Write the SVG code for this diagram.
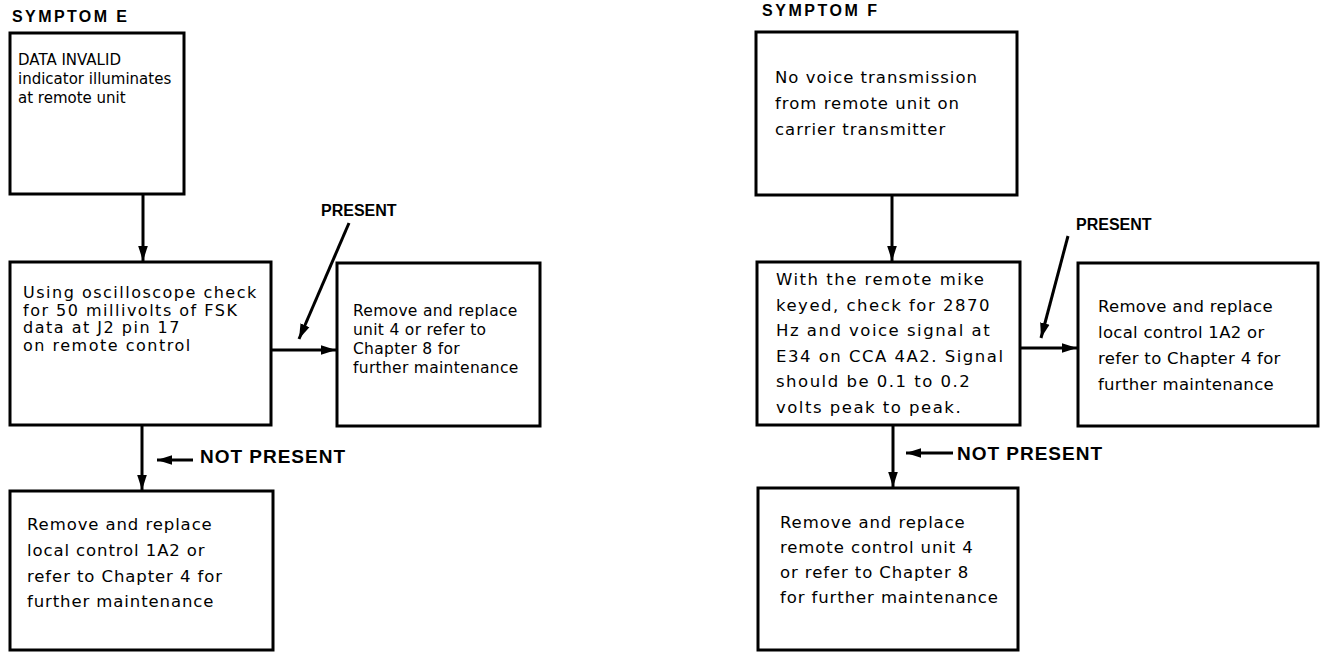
<svg xmlns="http://www.w3.org/2000/svg" width="1325" height="653" viewBox="0 0 1325 653">
<defs>
<style>
.box{fill:#fff;stroke:#000;stroke-width:3}
.t{font-family:"DejaVu Sans","Liberation Sans",sans-serif;font-size:16.5px;fill:#000;letter-spacing:0.9px}
.h{font-family:"Liberation Sans",Arial,sans-serif;font-weight:bold;font-size:16px;fill:#000}
.np{font-family:"Liberation Sans",Arial,sans-serif;font-weight:bold;font-size:19px;fill:#000}
.ln{stroke:#000;stroke-width:3;fill:none}
</style>
<marker id="ah" viewBox="0 0 10 10" refX="10" refY="5" markerWidth="5" markerHeight="5" markerUnits="strokeWidth" orient="auto">
<path d="M0,1.8 L10,5 L0,8.2 Z" fill="#000"/>
</marker>
</defs>
<rect width="1325" height="653" fill="#fff"/>

<text class="h" x="12" y="22" textLength="115" lengthAdjust="spacing">SYMPTOM E</text>
<text class="h" x="762" y="16" textLength="115" lengthAdjust="spacing">SYMPTOM F</text>

<g id="connectors">
<line class="ln" x1="143" y1="194" x2="143" y2="261" marker-end="url(#ah)"/>
<line class="ln" x1="271" y1="350" x2="336" y2="350" marker-end="url(#ah)"/>
<line class="ln" x1="349" y1="223" x2="299" y2="339" marker-end="url(#ah)"/>
<line class="ln" x1="142" y1="425" x2="142" y2="490" marker-end="url(#ah)"/>
<line class="ln" x1="193" y1="460" x2="157" y2="460" marker-end="url(#ah)"/>
<line class="ln" x1="892" y1="195" x2="892" y2="261" marker-end="url(#ah)"/>
<line class="ln" x1="1020" y1="348" x2="1077" y2="348" marker-end="url(#ah)"/>
<line class="ln" x1="1068" y1="236" x2="1041" y2="338" marker-end="url(#ah)"/>
<line class="ln" x1="893" y1="425" x2="893" y2="487" marker-end="url(#ah)"/>
<line class="ln" x1="953" y1="453" x2="906" y2="453" marker-end="url(#ah)"/>
</g>

<text class="h" x="321" y="216" font-size="16.5">PRESENT</text>
<text class="np" x="200" y="463" textLength="145" lengthAdjust="spacing">NOT PRESENT</text>
<text class="h" x="1076" y="230" font-size="16.5">PRESENT</text>
<text class="np" x="957" y="460" textLength="145" lengthAdjust="spacing">NOT PRESENT</text>

<g id="e1">
<rect class="box" x="10" y="33" width="174" height="161"/>
<text class="t" x="18" y="65" style="font-size:15px;letter-spacing:0px">DATA INVALID</text>
<text class="t" x="18" y="84" style="font-size:15px;letter-spacing:0px">indicator illuminates</text>
<text class="t" x="18" y="103" style="font-size:15px;letter-spacing:0px">at remote unit</text>
</g>
<g id="e2">
<rect class="box" x="10" y="262" width="261" height="163"/>
<text class="t" x="23" y="298" style="font-size:16px;letter-spacing:1.5px">Using oscilloscope check</text>
<text class="t" x="23" y="315.5" style="font-size:16px;letter-spacing:1.5px">for 50 millivolts of FSK</text>
<text class="t" x="23" y="333" style="font-size:16px;letter-spacing:1.5px">data at J2 pin 17</text>
<text class="t" x="23" y="350.5" style="font-size:16px;letter-spacing:1.5px">on remote control</text>
</g>
<g id="e3">
<rect class="box" x="337" y="263" width="203" height="163"/>
<text class="t" x="353" y="316" style="font-size:15.5px;letter-spacing:0.3px">Remove and replace</text>
<text class="t" x="353" y="335" style="font-size:15.5px;letter-spacing:0.3px">unit 4 or refer to</text>
<text class="t" x="353" y="354" style="font-size:15.5px;letter-spacing:0.3px">Chapter 8 for</text>
<text class="t" x="353" y="373" style="font-size:15.5px;letter-spacing:0.3px">further maintenance</text>
</g>
<g id="e4">
<rect class="box" x="10" y="491" width="263" height="159"/>
<text class="t" x="27" y="530">Remove and replace</text>
<text class="t" x="27" y="556">local control 1A2 or</text>
<text class="t" x="27" y="582">refer to Chapter 4 for</text>
<text class="t" x="27" y="607">further maintenance</text>
</g>
<g id="f1">
<rect class="box" x="756" y="32" width="261" height="163"/>
<text class="t" x="775" y="83" style="letter-spacing:1px">No voice transmission</text>
<text class="t" x="775" y="109" style="letter-spacing:1px">from remote unit on</text>
<text class="t" x="775" y="135" style="letter-spacing:1px">carrier transmitter</text>
</g>
<g id="f2">
<rect class="box" x="757" y="262" width="263" height="163"/>
<text class="t" x="776" y="285" style="letter-spacing:1.5px">With the remote mike</text>
<text class="t" x="776" y="310.5" style="letter-spacing:1.5px">keyed, check for 2870</text>
<text class="t" x="776" y="336" style="letter-spacing:1.5px">Hz and voice signal at</text>
<text class="t" x="776" y="361.5" style="letter-spacing:1.5px">E34 on CCA 4A2. Signal</text>
<text class="t" x="776" y="387" style="letter-spacing:1.5px">should be 0.1 to 0.2</text>
<text class="t" x="776" y="413" style="letter-spacing:1.5px">volts peak to peak.</text>
</g>
<g id="f3">
<rect class="box" x="1078" y="263" width="240" height="163"/>
<text class="t" x="1098" y="312" style="letter-spacing:0.3px">Remove and replace</text>
<text class="t" x="1098" y="338" style="letter-spacing:0.3px">local control 1A2 or</text>
<text class="t" x="1098" y="364" style="letter-spacing:0.3px">refer to Chapter 4 for</text>
<text class="t" x="1098" y="390" style="letter-spacing:0.3px">further maintenance</text>
</g>
<g id="f4">
<rect class="box" x="758" y="488" width="260" height="162"/>
<text class="t" x="780" y="528">Remove and replace</text>
<text class="t" x="780" y="553">remote control unit 4</text>
<text class="t" x="780" y="578">or refer to Chapter 8</text>
<text class="t" x="780" y="603">for further maintenance</text>
</g>
</svg>
